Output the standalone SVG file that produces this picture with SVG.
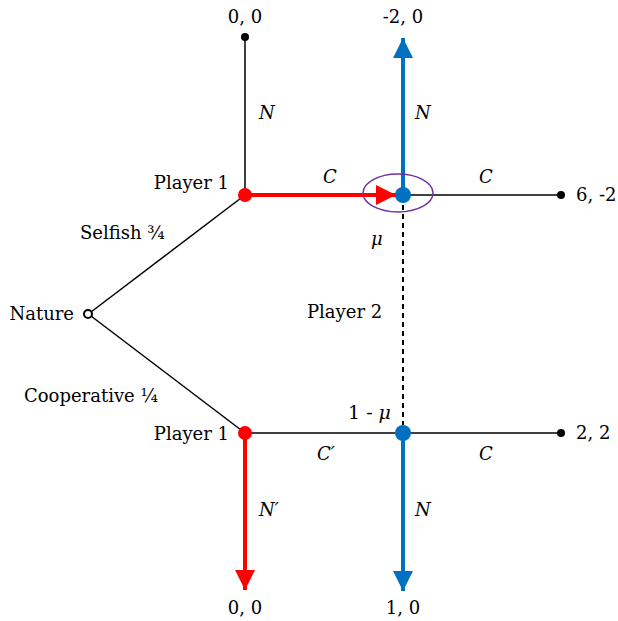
<svg xmlns="http://www.w3.org/2000/svg" width="618" height="621" viewBox="0 0 618 621">
<style>
text{font-family:"DejaVu Serif","Liberation Serif",serif;font-size:18px;fill:#000}
.i{font-style:italic}
.l{stroke:#000;stroke-width:1.5;fill:none}
.red{stroke:#ff0000;stroke-width:4;fill:none}
.blue{stroke:#0070c0;stroke-width:4;fill:none}
</style>
<defs>
<marker id="ar" markerWidth="6" markerHeight="6" refX="5" refY="2.5" orient="auto" markerUnits="strokeWidth"><path d="M0,0L5,2.5L0,5z" fill="#ff0000"/></marker>
<marker id="ab" markerWidth="6" markerHeight="6" refX="5" refY="2.5" orient="auto" markerUnits="strokeWidth"><path d="M0,0L5,2.5L0,5z" fill="#0070c0"/></marker>
</defs>
<rect width="618" height="621" fill="#fff"/>
<g id="connectors">
<line class="l" x1="245" y1="37" x2="245" y2="195"/>
<line class="l" x1="91" y1="312" x2="245" y2="195"/>
<line class="l" x1="91" y1="316" x2="245" y2="433"/>
<line class="l" x1="403" y1="195" x2="561" y2="195"/>
<line class="l" x1="245" y1="433" x2="561" y2="433"/>
<line x1="403" y1="205" x2="403" y2="425" stroke="#000" stroke-width="2" stroke-dasharray="5,4"/>
<line class="red" x1="245" y1="195" x2="396" y2="195" marker-end="url(#ar)"/>
<line class="red" x1="245" y1="433" x2="245" y2="590" marker-end="url(#ar)"/>
<line class="blue" x1="403" y1="195" x2="403" y2="38" marker-end="url(#ab)"/>
<line class="blue" x1="403" y1="433" x2="403" y2="591" marker-end="url(#ab)"/>
<ellipse cx="398" cy="193" rx="35" ry="19" fill="none" stroke="#7030a0" stroke-width="1.5"/>
</g>
<g id="nature"><circle cx="88" cy="314" r="4" fill="#fff" stroke="#000" stroke-width="2"/><text x="74" y="320" text-anchor="end">Nature</text></g>
<g id="p1top"><circle cx="245" cy="195" r="7" fill="#ff0000"/><text x="229" y="189" text-anchor="end">Player 1</text></g>
<g id="p1bot"><circle cx="245" cy="433" r="7" fill="#ff0000"/><text x="229" y="440" text-anchor="end">Player 1</text></g>
<g id="p2top"><circle cx="403" cy="195" r="8" fill="#0070c0"/></g>
<g id="p2bot"><circle cx="403" cy="433" r="8" fill="#0070c0"/></g>
<g id="t1"><circle cx="245" cy="37" r="4" fill="#000"/><text x="245" y="23" text-anchor="middle">0, 0</text></g>
<g id="t2"><text x="403" y="23" text-anchor="middle">-2, 0</text></g>
<g id="t3"><circle cx="561" cy="195" r="4" fill="#000"/><text x="576" y="201">6, -2</text></g>
<g id="t4"><circle cx="561" cy="433" r="4" fill="#000"/><text x="576" y="439">2, 2</text></g>
<g id="t5"><text x="245" y="614" text-anchor="middle">0, 0</text></g>
<g id="t6"><text x="403" y="614" text-anchor="middle">1, 0</text></g>
<g id="labels">
<text class="i" x="259" y="119">N</text>
<text class="i" x="415" y="119">N</text>
<text class="i" x="323" y="183">C</text>
<text class="i" x="479" y="183">C</text>
<text x="80" y="239">Selfish ¾</text>
<text x="307" y="318">Player 2</text>
<text class="i" x="371" y="245">μ</text>
<text x="24" y="402">Cooperative ¼</text>
<text x="348" y="419" style="font-size:19px">1 - <tspan class="i">μ</tspan></text>
<text class="i" x="317" y="460">C′</text>
<text class="i" x="479" y="460">C</text>
<text class="i" x="259" y="516">N′</text>
<text class="i" x="415" y="516">N</text>
</g>
</svg>
